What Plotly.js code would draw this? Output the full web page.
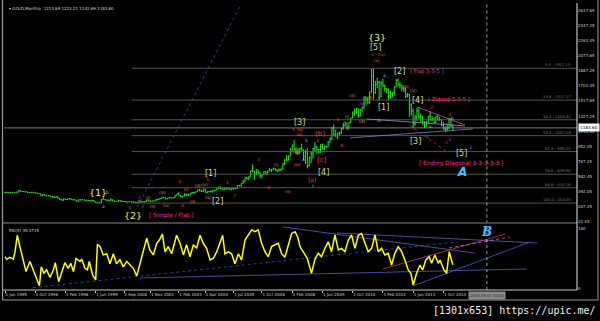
<!DOCTYPE html>
<html><head><meta charset="utf-8">
<script src="https://cdn.plot.ly/plotly-3.0.1.min.js"></script>
<style>html,body{margin:0;padding:0;background:#000;}#chart{width:600px;height:321px;}</style>
</head><body><div id="chart"></div>
<script>
// ---- monthly GOLD bars, Jun 1995 .. Mar 2015 (bar index 0..237) ----
const open = [385,387,383,382,384,383,387,
387,405,400,396,392,391,382,385,387,379,379,371,
369,345,358,349,340,345,334,326,325,332,311,296,
290,303,297,301,310,294,296,288,273,294,292,294,
288,287,287,279,286,268,261,255,254,299,299,291,
290,283,293,278,275,272,288,276,277,273,264,269,
272,266,267,258,264,267,271,265,273,293,279,275,
279,282,297,302,309,326,318,304,312,324,317,318,
347,368,348,336,338,362,346,354,375,385,386,398,
416,403,397,427,387,394,395,391,408,416,429,452,
438,422,435,428,435,417,437,429,433,473,470,495,
517,569,556,582,654,643,614,633,623,599,604,646,
632,650,665,662,679,659,650,665,673,743,789,783,
834,923,971,916,864,886,928,912,833,871,718,815,
869,927,942,916,883,979,926,954,955,1008,1040,1182,
1096,1081,1118,1113,1180,1212,1244,1181,1248,1307,1357,1386,
1421,1333,1410,1439,1556,1536,1500,1628,1828,1620,1722,1746,
1566,1738,1710,1669,1664,1561,1604,1622,1692,1773,1719,1713,
1675,1663,1578,1595,1472,1392,1234,1313,1395,1327,1323,1253,
1202,1244,1326,1284,1296,1250,1327,1282,1287,1210,1171,1167,
1184,1283,1213.69];
const high = [391,390,390,387,387,390,389,
408,416,401,397,396,392,388,390,388,384,383,372,
369,366,358,349,350,346,335,332,336,333,313,299,
309,305,302,315,310,297,297,288,300,302,299,296,
293,291,290,292,290,269,264,260,305,339,301,293,
292,313,297,286,278,292,290,280,278,275,270,275,
272,269,268,265,294,275,272,279,294,293,284,282,
285,301,304,311,327,330,322,315,327,324,322,349,
372,389,353,341,372,372,368,376,391,390,399,418,
430,418,428,430,397,399,410,415,418,432,455,456,
438,438,446,438,436,442,438,447,475,479,497,539,
570,575,585,654,730,649,675,664,637,610,650,648,
656,690,674,692,690,672,681,680,745,795,845,842,
932,975,1033,944,937,943,989,917,916,933,825,887,
935,1007,965,923,980,989,960,966,1023,1070,1195,1227,
1161,1124,1138,1180,1248,1265,1246,1252,1308,1388,1424,1432,
1424,1414,1447,1576,1577,1560,1632,1912,1921,1764,1803,1764,
1764,1791,1718,1676,1667,1640,1627,1692,1790,1796,1755,1723,
1696,1683,1617,1605,1488,1424,1346,1434,1424,1361,1325,1267,
1270,1332,1392,1331,1315,1326,1345,1321,1287,1256,1205,1238,
1307,1308,1223.21];
const low = [382,381,380,381,380,381,383,
386,398,394,389,389,379,380,384,378,376,370,365,
342,339,346,336,339,333,314,320,318,309,291,283,
278,289,290,299,291,287,286,271,273,287,290,284,
283,282,277,278,267,256,253,252,254,296,288,279,
281,283,277,273,269,272,275,270,267,263,262,267,
262,255,257,255,263,265,262,264,271,276,272,272,
277,281,286,300,307,314,300,301,311,310,314,317,
344,345,324,320,337,342,341,350,370,366,380,397,
400,392,391,384,372,383,386,389,398,409,427,426,
418,411,424,421,414,414,418,426,431,460,457,491,
514,538,538,581,636,542,604,610,560,560,600,605,
603,647,637,662,651,640,647,650,669,722,772,781,
834,888,907,858,850,861,901,786,736,681,704,745,
802,890,866,866,878,913,908,931,950,1003,1035,1082,
1072,1045,1086,1109,1162,1203,1157,1175,1240,1305,1331,1357,
1309,1323,1381,1417,1462,1478,1481,1623,1535,1605,1672,1523,
1563,1689,1628,1613,1527,1546,1564,1588,1684,1695,1672,1635,
1626,1555,1562,1321,1338,1180,1207,1270,1293,1251,1221,1182,
1200,1239,1277,1268,1240,1241,1282,1271,1206,1161,1131,1142,
1167,1191,1142.69];
const close = [387,383,382,384,383,387,387,
405,400,396,392,391,382,385,387,379,379,371,369,
345,358,349,340,345,334,326,325,332,311,296,290,
303,297,301,310,294,296,288,273,294,292,294,288,
287,287,279,286,268,261,255,254,299,299,291,290,
283,293,278,275,272,288,276,277,273,264,269,272,
266,267,258,264,267,271,265,273,293,279,275,279,
282,297,302,309,326,318,304,312,324,317,318,347,
368,348,336,338,362,346,354,375,385,386,398,416,
403,397,427,387,394,395,391,408,416,429,452,438,
422,435,428,435,417,437,429,433,473,470,495,517,
569,556,582,654,643,614,633,623,599,604,646,632,
650,665,662,679,659,650,665,673,743,789,783,834,
923,971,916,864,886,928,912,833,871,718,815,869,
927,942,916,883,979,926,954,955,1008,1040,1182,1096,
1081,1118,1113,1180,1212,1244,1181,1248,1307,1357,1386,1421,
1333,1410,1439,1556,1536,1500,1628,1828,1620,1722,1746,1566,
1738,1710,1669,1664,1561,1604,1622,1692,1773,1719,1713,1675,
1663,1578,1595,1472,1392,1234,1313,1395,1327,1323,1253,1202,
1244,1326,1284,1296,1250,1327,1282,1287,1210,1171,1167,1184,
1283,1213,1183.60];

// ---- RSI(5) turning points (bar index, value) ----
const rsiBar = [0,1,2.6,4.4,5.3,6.5,7.9,9.7,11.1,13.2,15,16.8,18.2,19.2,20.6,22,23.8,25.6,26.6,28.4,30,31.7,33.5,34.8,36.2,37.6,39.7,40.6,42.3,43.6,44.6,46.4,48,48.9,50.3,52,53.8,55.6,57.3,59,60.8,62.6,64.4,66.1,67.9,69.7,71.4,73.6,75,76.7,78.5,80.3,81.7,83.3,84.7,86.4,88.2,90.8,92.6,94.4,96.1,97.9,99.7,101.4,103.2,104.9,106.7,108.5,110.2,112,113.8,115.2,116.4,118.2,119.9,121.7,123.5,125.2,127,128.8,130.5,132.3,134,135.8,137.6,139.3,141.1,142.9,144.6,146.4,148.1,150,151.7,153.5,154.9,156.1,158,160,162.2,164,165.8,167.5,169.3,171.1,172.8,174.6,176.4,178.1,179.9,181.7,183.4,185.2,187,188.7,190.5,192.2,194,195.8,197.5,199.3,201,202.8,204.6,206.3,208.1,209.9,211.6,213.4,214.8,216,217.8,219.6,221,222.7,224.5,225.7,227.5,229.3,230.2,232.3,233.7,235.1,235.8,237];
const rsiValue = [53,48.6,52,49,61,89,70,45,28,45,31,15,4.4,36,25,31,18,31,43,11,25,43,33.5,42,28,50,45,49,33.5,31,45,22,14,74,70,56,58,41,58,41,48,36,45,39,33.5,20.6,41,64,84,64,56,75.5,81,91,61,70,58,89,75.5,56,73,53,73,67,89,75.5,67,47.5,50,61,78,89,58,61,58,41,58,47.5,81,89,98,95,98,75.5,61,53,70,73,75.5,58,52,73,92,95,86,70,59,50,25,48.6,58.7,53,67,78,61.4,89.4,64.3,67,61.4,81,89.4,67,89.4,92,75.5,61.4,67,89.4,61.4,67,55.9,58.7,39,58.7,69.8,61.4,47.5,30.7,25.2,5.5,25.2,39,30.7,47.5,53,41.9,55.9,41.9,47.5,30.7,25.2,61.4,53,39.37];

// ---- axis labels ----
const dateTickBar = [0,16,32,48,63,77,92,106,121,136,152,168,184,200,216,232];
const dateTickText = ['1 Jun 1995','1 Oct 1996','1 Feb 1998','1 Jun 1999','1 Sep 2000','1 Nov 2001','1 Feb 2003','1 Apr 2004','1 Jul 2005','1 Oct 2006','1 Feb 2008','1 Jun 2009','1 Oct 2010','1 Feb 2012','1 Jun 2013','1 Oct 2014'];
const priceTicks = [2637.65,2447.25,2262.45,2077.65,1887.25,1702.45,1517.65,1327.25,1142.45,952.05,767.25,582.45,392.05,207.25,22.45];

// ---- Fibonacci retracement (drawn from bar 67) ----
const fibLevel = ['0.0','23.6','38.2','50.0','61.8','78.6','88.6','100.0'];
const fibPrice = [1921.15,1527.47,1283.92,1087.08,890.23,609.98,443.16,253.00];
const fibStartBar = 67;
const lastPrice = 1183.60;
const futureBar = 255;

// ---- trend lines (bar, price) ----
const mainLineBar = [[191.5,243.4],[182.5,247.6],[218,243.4],[214,233.9],[70,125]];
const mainLinePrice = [[1294,1208],[1059,1171],[1443,1220],[1220,886],[200,2720]];
// RSI panel lines (bar, rsi)
const rsiLineBar = [[14.8,240],[71.4,276.2],[147,248.7],[175.7,281.5],[200,264.6],[215.9,277.8],[235,267]];
const rsiLineValue = [[1,78],[17.3,32.4],[103,59],[92.8,76],[32.4,91],[3.9,77.7],[67.6,86]];

const idx = close.map((_, i) => i);
const traces = [];
traces.push({type:'ohlc', x: idx, open: open, high: high, low: low, close: close,
  xaxis:'x', yaxis:'y', tickwidth:0.4,
  increasing:{line:{color:'#22ee22', width:1}}, decreasing:{line:{color:'#22ee22', width:1}}, hoverinfo:'skip'});

fibPrice.forEach(p => traces.push({type:'scatter', mode:'lines', x:[fibStartBar, 302.7], y:[p,p], xaxis:'x', yaxis:'y',
  line:{color:'#6a6a6a', width:0.8}, hoverinfo:'skip'}));
traces.push({type:'scatter', mode:'lines', x:[-1, 303], y:[lastPrice,lastPrice], xaxis:'x', yaxis:'y', line:{color:'#9a9a9a', width:0.8}, hoverinfo:'skip'});

const mainLineStyle = [{c:'#9a8fd8',d:'solid'},{c:'#6f7fd0',d:'solid'},{c:'#c060c0',d:'solid'},{c:'#e03030',d:'dot'},{c:'#3050c0',d:'dot'}];
mainLineBar.forEach((b,i)=>traces.push({type:'scatter', mode:'lines', x:b, y:mainLinePrice[i], xaxis:'x', yaxis:'y',
  line:{color:mainLineStyle[i].c, width:0.8, dash:mainLineStyle[i].d}, hoverinfo:'skip'}));

const rsiLineStyle = [{c:'#3050c0',d:'dot'},{c:'#5060c0',d:'solid'},{c:'#6a5ac8',d:'solid'},{c:'#6a5ac8',d:'solid'},{c:'#d03070',d:'solid'},{c:'#5060d0',d:'solid'},{c:'#d080c0',d:'dot'}];
rsiLineBar.forEach((b,i)=>traces.push({type:'scatter', mode:'lines', x:b, y:rsiLineValue[i], xaxis:'x', yaxis:'y2',
  line:{color:rsiLineStyle[i].c, width:0.8, dash:rsiLineStyle[i].d}, hoverinfo:'skip'}));

traces.push({type:'scatter', mode:'lines', x:rsiBar, y:rsiValue, xaxis:'x', yaxis:'y2', line:{color:'#ffff00', width:1.5}, hoverinfo:'skip'});

traces.push({type:'scatter', mode:'lines', x:[futureBar,futureBar], y:[0,2729], xaxis:'x', yaxis:'y', line:{color:'#c8c8c8', width:0.8, dash:'dot'}, hoverinfo:'skip'});
traces.push({type:'scatter', mode:'lines', x:[futureBar,futureBar], y:[-3,108], xaxis:'x', yaxis:'y2', line:{color:'#c8c8c8', width:0.8, dash:'dot'}, hoverinfo:'skip'});

// ---- wave labels ----
const F = 'DejaVu Sans';
const Y='#f2f25a', O='#d2dc98', P='#ff2f8f', R='#ff3a2a', OR='#ff8a4a', C='#3cc8ff', V='#c040ff';
const waveLabels = [
 ['{1}',49,390,Y,9.5],['{2}',67.5,100,Y,9.5],['{3}',196.6,2298,Y,9.5],
 ['[5]',196.3,2181,O,8],['[1]',108.5,625,O,8],['[2]',112.7,267,O,8],['[3]',156,1245,O,8],['[4]',168.3,626,O,8],
 ['[1]',200.5,1442,O,8],['[2]',209,1877,O,8],['[4]',218.5,1518,O,8],['[3]',217,1010,O,8],['[5]',241.8,861,O,8],
 ['[ Simple / Flat ]',87.8,105,P,5.8],['[ Flat 3-3-5 ]',223.3,1890,P,5.4],['[ Zigzag 5-3-5 ]',234.9,1530,P,5.4],['[ Ending Diagonal 3-3-3-3-3 ]',241.3,749,P,5.8],
 ['5 - Ext.',197.4,2088,R,4.3],['5  Ext',155,1165,R,4],['(b)',166.7,1110,R,7],['[c]',167.7,787,R,7],['(a)',162.4,551,R,6],
 ['1',71.4,328,R,4.5],['2',73,205,R,4.5],['3',92.6,514,R,4.5],['4',93.7,229,R,4.5],['5',107.4,545,R,4.5],['1',118,502,R,4.5],['2',121.7,341,R,4.5],
 ['3',134.4,787,R,4.5],['4',139.2,452,R,4.5],['3',176.2,1282,R,4.5],['4',178.3,960,R,4.5],
 ['2',225.8,1442,R,4.5],['3',235,1344,R,4.5],['1',223.8,1072,R,4.5],['2',233.9,997,R,4.5],
 ['(v)',196.6,2013,OR,4],['(i)',75.7,328,OR,4],['(ii)',78.3,205,OR,4],['(iii)',83.6,378,OR,4],['(iv)',85.7,217,OR,4],
 ['(v)',106,485,OR,4],['(i)',96.3,415,OR,4],['(ii)',99.5,267,OR,4],['(iii)',102.5,465,OR,4],['(iv)',107.9,328,OR,4],
 ['(i)',143.9,725,OR,4],['(ii)',149.7,400,OR,4],['(iii)',154.5,886,OR,4],['(iv)',155,725,OR,4],['(v)',156.1,1100,OR,4],
 ['(i)',181,1320,OR,4],['(iii)',184.1,1580,OR,4],['(4)',189.4,1258,OR,4.5],['(ii)',193.1,1560,OR,4],
 ['(iii)',212,1700,OR,4],['(iv)',216,1650,OR,4],['iv',189,1480,V,4.5],
 ['a',51.9,205,C,4.5],['b',54,390,C,4.5],['c',66.5,195,C,4.5],['a',157.7,787,C,4.5],['b',159.8,1022,C,4.5],['c',166.1,1022,C,4.5],['c',163,470,C,4.5],
 ['a',201,1830,C,4.5],['b',198,1270,C,4.5],['a',225,1200,C,4.5],['b',237,1300,C,4.5],['c',236,1040,C,4.5],['c',247,940,C,4.5],
 ['<i><b>A</b></i>',241.8,638,C,12]
];
const annotations = waveLabels.map(l => ({x:l[1], y:l[2], xref:'x', yref:'y', text:l[0], showarrow:false,
  font:{family:F, size:l[4], color:l[3]}}));
annotations.push({x:255, y:94, xref:'x', yref:'y2', text:'<i><b>B</b></i>', showarrow:false, font:{family:'DejaVu Serif', size:12, color:C}});

fibLevel.forEach((lv,i)=>annotations.push({x:0.993, y:fibPrice[i], xref:'paper', yref:'y', xanchor:'right', yanchor:'bottom', yshift:-1,
  text: lv + ' : ' + fibPrice[i].toFixed(2), showarrow:false, font:{family:F, size:3.8, color:'#7a7a7a'}}));
annotations.push({x:0.005, y:0.997, xref:'paper', yref:'paper', xanchor:'left', yanchor:'top',
  text:'▾ GOLD,Monthly  1213.69 1223.21 1142.69 1183.60', showarrow:false, font:{family:F, size:4, color:'#d8d8d8'}});
annotations.push({x:0.005, y:0.224, xref:'paper', yref:'paper', xanchor:'left', yanchor:'top',
  text:'RSI(5) 39.3715', showarrow:false, font:{family:F, size:4, color:'#d8d8d8'}});
annotations.push({x:1.002, y:lastPrice, xref:'paper', yref:'y', xanchor:'left', yanchor:'middle',
  text:'1183.60', showarrow:false, bgcolor:'#ffffff', font:{family:F, size:4.2, color:'#000'}, borderpad:1});
annotations.push({x:futureBar, y:-0.004, xref:'x', yref:'paper', xanchor:'center', yanchor:'top',
  text:'2016.09.01 00:00', showarrow:false, bgcolor:'#8a8a8a', font:{family:F, size:3.8, color:'#2a2a2a'}, borderpad:1});
annotations.push({x:1.0366, y:-0.045, xref:'paper', yref:'paper', xanchor:'right', yanchor:'top',
  text:'[1301x653] https://upic.me/', showarrow:false, font:{family:'DejaVu Sans Mono', size:10, color:'#f0f0f0'}});

const shapes = [
  {type:'line', xref:'paper', yref:'paper', x0:-0.003, x1:1, y0:0.2334, y1:0.2334, line:{color:'#8a8a8a', width:1}},
  {type:'line', xref:'paper', yref:'paper', x0:-0.003, x1:1, y0:0.0, y1:0.0, line:{color:'#c8c8c8', width:1}},
  {type:'line', xref:'paper', yref:'paper', x0:-0.0026, x1:-0.0026, y0:1.0105, y1:-0.0348, line:{color:'#9a9a9a', width:1.2}},
  {type:'line', xref:'paper', yref:'paper', x0:-0.0026, x1:1.0366, y0:-0.0348, y1:-0.0348, line:{color:'#9a9a9a', width:1}},
  {type:'line', xref:'paper', yref:'paper', x0:1.0366, x1:1.0366, y0:1.0105, y1:-0.0348, line:{color:'#9a9a9a', width:1}},
  {type:'line', xref:'paper', yref:'paper', x0:1, x1:1, y0:1, y1:0, line:{color:'#e8e8e8', width:1}}
];

const layout = {
  width:600, height:321, paper_bgcolor:'#000', plot_bgcolor:'#000', showlegend:false,
  margin:{l:4, r:23, t:3, b:31},
  font:{family:F, color:'#d0d0d0', size:4},
  xaxis:{range:[-0.53,302.7], anchor:'y2', rangeslider:{visible:false}, showgrid:false, zeroline:false,
    tickvals:dateTickBar, ticktext:dateTickText, ticks:'outside', ticklen:2, tickcolor:'#c8c8c8', tickangle:0,
    ticklabelposition:'outside right', tickfont:{family:F, size:4, color:'#d0d0d0'}, showline:false},
  yaxis:{domain:[0.2369,1], range:[18.7,2729], side:'right', showgrid:false, zeroline:false,
    tickvals:priceTicks, ticktext:priceTicks.map(v=>v.toFixed(2)), ticks:'', tickfont:{family:F, size:4, color:'#d0d0d0'}},
  yaxis2:{domain:[0,0.23], range:[-2.9,107.9], side:'right', showgrid:false, zeroline:false,
    tickvals:[0,100], ticktext:['0','100'], ticks:'', tickfont:{family:F, size:4, color:'#d0d0d0'}},
  annotations: annotations, shapes: shapes
};
Plotly.newPlot('chart', traces, layout, {staticPlot:true, displayModeBar:false});
</script></body></html>
